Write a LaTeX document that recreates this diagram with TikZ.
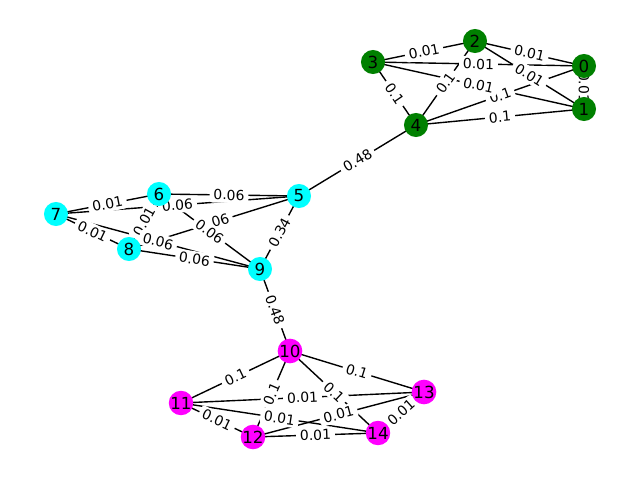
\documentclass[tikz,border=0pt]{standalone}
\usepackage{fontspec}
\setmainfont{DejaVu Sans}
\definecolor{nxgreen}{RGB}{0,128,0}
\definecolor{nxcyan}{RGB}{0,255,255}
\definecolor{nxmagenta}{RGB}{255,0,255}
\pgfdeclarelayer{edges}
\pgfdeclarelayer{labels}
\pgfsetlayers{edges,labels,main}
\tikzset{
  x=0.72pt, y=-0.72pt,
  vx/.style ={circle, minimum size=17.3pt, inner sep=0pt, font=\fontsize{12}{14}\selectfont},
  gv/.style ={vx, fill=nxgreen},
  cv/.style ={vx, fill=nxcyan},
  mv/.style ={vx, fill=nxmagenta},
  edge/.style={draw=black, line width=1pt},
  wt/.style  ={fill=white, rounded corners=2pt, inner xsep=2.8pt, inner ysep=1.8pt, sloped, font=\fontsize{10}{12}\selectfont}
}
\begin{document}
\begin{tikzpicture}
\useasboundingbox (0,0) rectangle (640,480);
% green group
\node[gv] (n0) at (584,66)  {0};
\node[gv] (n1) at (584,109) {1};
\node[gv] (n2) at (475,41)  {2};
\node[gv] (n3) at (373,62)  {3};
\node[gv] (n4) at (416,125) {4};
% cyan group
\node[cv] (n5) at (299,196) {5};
\node[cv] (n6) at (159,194) {6};
\node[cv] (n7) at (56,214)  {7};
\node[cv] (n8) at (129,249) {8};
\node[cv] (n9) at (260,269) {9};
% magenta group
\node[mv] (n10) at (290,351) {10};
\node[mv] (n11) at (181,403) {11};
\node[mv] (n12) at (253,437) {12};
\node[mv] (n13) at (424,392) {13};
\node[mv] (n14) at (378,433) {14};
% edges and weights
\foreach \a/\b/\w in {0/1/0.01, 0/2/0.01, 0/3/0.01, 0/4/0.1, 1/2/0.01, 1/3/0.01,
    1/4/0.1, 2/3/0.01, 2/4/0.1, 3/4/0.1, 4/5/0.48,
    5/6/0.06, 5/7/0.06, 5/8/0.06, 5/9/0.34, 6/7/0.01, 6/8/0.01, 6/9/0.06,
    7/8/0.01, 7/9/0.06, 8/9/0.06, 9/10/0.48,
    10/11/0.1, 10/12/0.1, 10/13/0.1, 10/14/0.1, 11/12/0.01, 11/13/0.01,
    11/14/0.01, 12/13/0.01, 12/14/0.01, 13/14/0.01} {
  \begin{pgfonlayer}{edges}
    \draw[edge] (n\a.center) -- (n\b.center);
  \end{pgfonlayer}
  \begin{pgfonlayer}{labels}
    \path (n\a.center) -- node[wt] {\w} (n\b.center);
  \end{pgfonlayer}
}
\end{tikzpicture}
\end{document}
